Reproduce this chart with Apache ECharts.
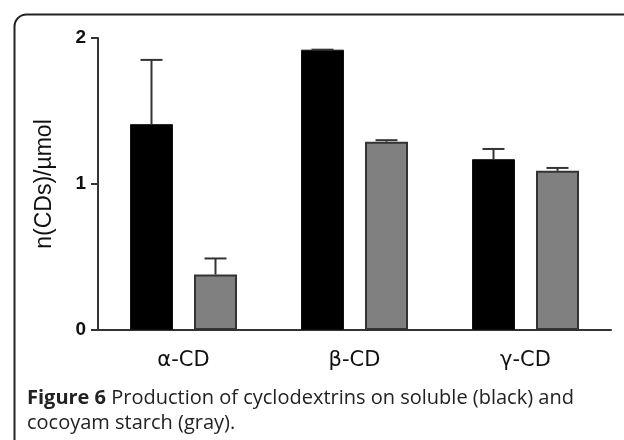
<!DOCTYPE html>
<html>
<head>
<meta charset="utf-8">
<script src="https://cdn.jsdelivr.net/npm/echarts@6/dist/echarts.min.js"></script>
<style>html,body{margin:0;padding:0;background:#fff}#c{width:624px;height:440px}</style>
</head>
<body>
<div id="c"></div>
<script>
var categories = ['α-CD', 'β-CD', 'γ-CD'];
var blackValues = [1.41, 1.92, 1.17];
var blackUpper = [1.85, 1.92, 1.24];
var grayValues = [0.38, 1.29, 1.09];
var grayUpper = [0.49, 1.30, 1.11];
var yTicks = [0, 1, 2];

var BAR_W = 43, BAR_GAP = 21;
var chart = echarts.init(document.getElementById('c'));

function errSeries(values, upper, sign, color) {
  return {
    type: 'custom',
    z: 5,
    data: values.map(function (v, i) { return [i, v, upper[i]]; }),
    renderItem: function (params, api) {
      var c = api.coord([api.value(0), api.value(1)]);
      var t = api.coord([api.value(0), api.value(2)]);
      var x = c[0] + sign * (BAR_W + BAR_GAP) / 2;
      var half = 11;
      return {
        type: 'group',
        children: [
          { type: 'line', shape: { x1: x, y1: c[1], x2: x, y2: t[1] }, style: { stroke: color, lineWidth: 2 } },
          { type: 'line', shape: { x1: x - half, y1: t[1], x2: x + half, y2: t[1] }, style: { stroke: color, lineWidth: 2 } }
        ]
      };
    }
  };
}

chart.setOption({
  animation: false,
  grid: { left: 98, right: 13, top: 38, bottom: 110 },
  xAxis: {
    type: 'category',
    data: categories,
    axisLine: { lineStyle: { color: '#333', width: 2 } },
    axisTick: { alignWithLabel: true, length: 7, lineStyle: { color: '#333', width: 2 } },
    axisLabel: { interval: 0, color: '#111', fontFamily: 'DejaVu Sans', fontSize: 21, margin: 20 }
  },
  yAxis: {
    type: 'value',
    min: 0, max: 2, interval: 1,
    name: 'n(CDs)/µmol',
    nameLocation: 'middle',
    nameGap: 42,
    nameTextStyle: { color: '#111', fontFamily: 'Liberation Sans', fontSize: 23 },
    splitLine: { show: false },
    axisLine: { show: true, lineStyle: { color: '#333', width: 2 } },
    axisTick: { show: true, length: 7, lineStyle: { color: '#333', width: 2 } },
    axisLabel: {
      color: '#111', fontFamily: 'Liberation Sans', fontWeight: 'bold', fontSize: 19, margin: 12,
      formatter: function (v) { return yTicks.indexOf(v) >= 0 ? String(v) : ''; }
    }
  },
  series: [
    { type: 'bar', data: blackValues, barWidth: BAR_W, barGap: (BAR_GAP / BAR_W * 100) + '%',
      itemStyle: { color: '#000', borderColor: '#111', borderWidth: 1 } },
    { type: 'bar', data: grayValues, barWidth: BAR_W,
      itemStyle: { color: '#808080', borderColor: '#333', borderWidth: 2 } },
    errSeries(blackValues, blackUpper, -1, '#333'),
    errSeries(grayValues, grayUpper, 1, '#333')
  ],
  graphic: [
    { type: 'rect', left: 12, top: 12, shape: { width: 640, height: 460, r: 12 }, silent: true,
      style: { fill: 'none', stroke: '#222', lineWidth: 2 } },
    { type: 'text', left: 27, top: 386,
      style: {
        text: '{b|Figure 6} Production of cyclodextrins on soluble (black) and\ncocoyam starch (gray).',
        rich: {
          b: { fontWeight: 'bold', fontFamily: 'Open Sans', fontSize: 20, fill: '#222' }
        },
        font: '20px "Open Sans"', fill: '#222', lineHeight: 25
      } }
  ]
});
</script>
</body>
</html>
